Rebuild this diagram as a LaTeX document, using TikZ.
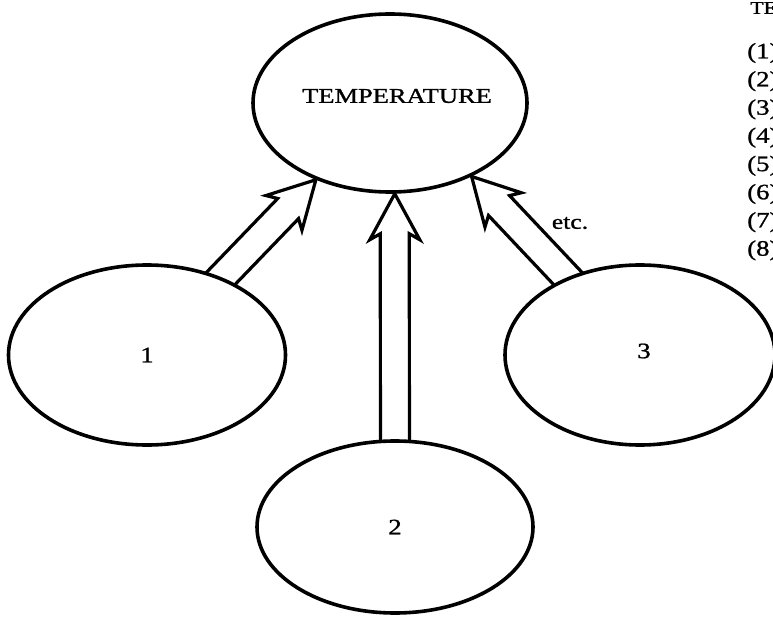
\documentclass[tikz,border=0pt]{standalone}
\usepackage{fontspec}
\setmainfont{Liberation Serif}[FakeBold=1]
\usetikzlibrary{shapes.geometric,calc,backgrounds}
\newcommand{\widetxt}[1]{\scalebox{1.22}[1]{#1}}
\tikzset{
  oval/.style={ellipse, draw, line width=3.6pt, fill=white, inner sep=0pt},
  blockarrow/.style={draw, line width=3.2pt, line join=miter},
  numlbl/.style={font=\fontsize{22}{26}\selectfont},
  listitem/.style={anchor=west, inner sep=0pt, font=\fontsize{22}{26}\selectfont},
}
\newcommand{\drawblockarrow}[3]{%
  \coordinate (#1h) at ($(#3)!40pt!(#2)$);
  \coordinate (#1b) at ($(#3)!46pt!(#2)$);
  \draw[blockarrow] ($(#2)!14.5pt!90:(#3)$) -- ($(#1h)!14.5pt!90:(#3)$) -- ($(#1b)!25pt!90:(#3)$) -- (#3)
     -- ($(#1b)!25pt!-90:(#3)$) -- ($(#1h)!14.5pt!-90:(#3)$) -- ($(#2)!14.5pt!-90:(#3)$);
}
\begin{document}
\begin{tikzpicture}[x=1pt,y=-1pt]
\useasboundingbox (0,0) rectangle (773,617);
% ellipses
\node[oval, minimum width=274pt, minimum height=178pt] (temp) at (390,103) {};
\node[font=\fontsize{21}{25}\selectfont, inner sep=0pt] (templbl) at (397,96) {\scalebox{1.26}[1]{TEMPERATURE}};
\node[oval, minimum width=277pt, minimum height=180pt, numlbl] (c1) at (147,355) {\widetxt{1}};
\node[oval, minimum width=276pt, minimum height=172pt, numlbl] (c2) at (395,527) {\widetxt{2}};
\node[oval, minimum width=270pt, minimum height=180pt] (c3) at (640,355) {};
\node[numlbl, inner sep=0pt] (c3lbl) at (644,351) {\widetxt{3}};
% arrow tips on the TEMPERATURE ellipse
\coordinate (t1) at (temp.226);
\coordinate (t2) at (temp.273);
\coordinate (t3) at (temp.318);
\begin{pgfonlayer}{background}
  \drawblockarrow{a1}{c1.center}{t1}
  \drawblockarrow{a2}{c2.center}{t2}
  \drawblockarrow{a3}{c3.center}{t3}
\end{pgfonlayer}
% labels
\node[font=\fontsize{21}{25}\selectfont, inner sep=0pt] (etc) at (570,223) {\widetxt{etc.}};
\node[anchor=west, inner sep=0pt, font=\fontsize{18}{21}\selectfont] (te) at (750,8) {\widetxt{TE}};
\foreach \i in {1,...,8}
  \node[listitem] (l\i) at (747,{53+28.2*(\i-1)}) {\widetxt{(\i)}};
\end{tikzpicture}
\end{document}
